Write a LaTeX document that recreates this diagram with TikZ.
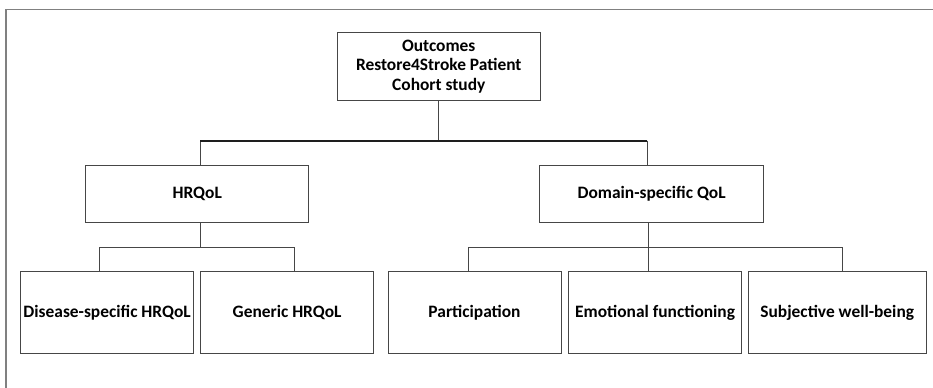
\documentclass[tikz,border=0pt]{standalone}
\usepackage{fontspec}
\setmainfont{Carlito}
\usepackage{tikz}
\usetikzlibrary{calc}
\definecolor{frame}{RGB}{128,128,128}
\definecolor{boxline}{RGB}{70,70,70}
\definecolor{black}{RGB}{30,30,30}
\tikzstyle{outcome} = [rectangle, minimum width=5.77cm, minimum height=2.72cm, line width=0.8pt, draw=boxline, text centered, align=center, font=\fontsize{16.5}{18.5}\selectfont\bfseries, inner sep=0pt]
\tikzstyle{link} = [line width=0.8pt, draw=boxline]
\tikzstyle{bus} = [line width=1.6pt, draw=black]

\begin{document}
\begin{tikzpicture}
     \useasboundingbox (0, 0) rectangle (31.1, -12.933);
     \draw[line width = 1.5pt, draw = frame] (0.2, -12.933) -- (0.2, -0.317) -- (31.1, -0.317);
     % top level
     \node (top) at (14.625, -2.212) [outcome, minimum width = 6.75cm, minimum height = 2.243cm]
           {Outcomes\\Restore4Stroke Patient\\Cohort study};
     % second level
     \node (hrqol) at (6.575, -6.46) [outcome, minimum width = 7.433cm, minimum height = 1.9cm] {HRQoL};
     \node (domain) at (21.72, -6.46) [outcome, minimum width = 7.457cm, minimum height = 1.9cm] {Domain-specific QoL};
     % third level
     \node (disease) at (3.57, -10.417) [outcome, minimum width = 5.753cm] {Disease-specific HRQoL};
     \node (generic) at (9.57, -10.417) [outcome] {Generic HRQoL};
     \node (particip) at (15.817, -10.417) [outcome] {Participation};
     \node (emotion) at (21.837, -10.417) [outcome, minimum width = 5.753cm] {Emotional functioning};
     \node (wellbeing) at (27.908, -10.417) [outcome, minimum width = 5.917cm] {Subjective well-being};
     % junctions
     \coordinate (busL) at (6.683, -4.69);
     \coordinate (busR) at (21.58, -4.69);
     \coordinate (lowL1) at (3.313, -8.243);
     \coordinate (lowL2) at (9.817, -8.243);
     \coordinate (lowR1) at (15.61, -8.243);
     \coordinate (lowR2) at (21.6, -8.243);
     \coordinate (lowR3) at (28.087, -8.243);
     % connectors
     \draw[link] (top.south) -- (top.south |- busL);
     \draw[link] (busL) -- (busL |- hrqol.north);
     \draw[link] (busR) -- (busR |- domain.north);
     \draw[bus] (busL) -- (busR);
     \draw[link] (busL |- hrqol.south) -- (busL |- lowL1);
     \draw[link] (lowL1) -- (lowL2);
     \draw[link] (lowL1) -- (lowL1 |- disease.north);
     \draw[link] (lowL2) -- (lowL2 |- generic.north);
     \draw[link] (lowR2 |- domain.south) -- (lowR2);
     \draw[link] (lowR1) -- (lowR3);
     \draw[link] (lowR1) -- (lowR1 |- particip.north);
     \draw[link] (lowR2) -- (lowR2 |- emotion.north);
     \draw[link] (lowR3) -- (lowR3 |- wellbeing.north);
   \end{tikzpicture}
\end{document}
